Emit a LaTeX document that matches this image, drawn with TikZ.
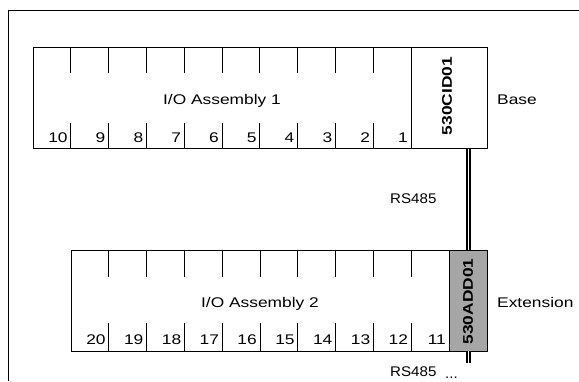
\documentclass[tikz,border=0pt]{standalone}
\usepackage{fontspec}
\setmainfont{Liberation Sans}
\usepackage{graphicx}
\newcommand\hs[1]{\scalebox{1.24}[1]{#1}}
\newcommand\hsr[1]{\scalebox{1.08}[1]{#1}}
\definecolor{modgray}{HTML}{A6A6A6}
\begin{document}
\begin{tikzpicture}[x=1pt,y=-1pt,
  ln/.style={draw=black, line width=0.9pt},
  io/.style={ln, rectangle, minimum width=378pt, minimum height=101pt, inner sep=0pt, anchor=north west},
  cidbox/.style={ln, rectangle, minimum width=76pt, minimum height=101pt, inner sep=0pt, anchor=north west},
  addbox/.style={ln, fill=modgray, rectangle, minimum width=38pt, minimum height=101pt, inner sep=0pt, anchor=north west},
  txt/.style={font=\fontsize{14}{16}\selectfont, inner sep=0pt},
  cable/.style={draw=black, line width=2pt, double=white, double distance=1pt},
]
\useasboundingbox (0,0) rectangle (579,381);
\draw[ln] (579,10) -- (8,10) -- (8,381);

% Base assembly
\node[io] (io1) at (33,47) {};
\node[cidbox] (cid) at (411,47) {};
\node[txt, rotate=90] (cidlab) at (447,96) {\hs{\bfseries 530CID01}};
\foreach \i in {1,...,9} {
  \draw[ln] ({33+37.8*\i},47) -- ++(0,26);
  \draw[ln] ({33+37.8*\i},148) -- ++(0,-25);
}
\foreach \i in {0,...,9} {
  \pgfmathtruncatemacro\n{10-\i}
  \node[txt, anchor=base east] (n1-\i) at ({33+37.8*(\i+1)-3},142) {\hs{\n}};
}
\node[txt, anchor=base] (lab1) at (222,104) {\hs{I/O Assembly 1}};
\node[txt, anchor=base west] (base) at (497,104) {\hs{Base}};

% Extension assembly
\node[io] (io2) at (71,249.5) {};
\node[addbox] (add) at (449,249.5) {};
\node[txt, rotate=90] (addlab) at (468,301.5) {\hs{\bfseries 530ADD01}};
\foreach \i in {1,...,9} {
  \draw[ln] ({71+37.8*\i},249.5) -- ++(0,27);
  \draw[ln] ({71+37.8*\i},350.5) -- ++(0,-28);
}
\foreach \i in {0,...,9} {
  \pgfmathtruncatemacro\n{20-\i}
  \node[txt, anchor=base east] (n2-\i) at ({71+37.8*(\i+1)-3},344) {\hs{\n}};
}
\node[txt, anchor=base] (lab2) at (260,307) {\hs{I/O Assembly 2}};
\node[txt, anchor=base west] (ext) at (497,307) {\hs{Extension}};

% RS485 cable
\draw[cable] (add.north |- cid.south) -- (add.north);
\coordinate (cend) at ([yshift=-12pt]add.south);
\draw[cable] (add.south) -- (cend);
\node[txt, anchor=base west] (rs1) at (390,203) {\hsr{RS485}};
\node[txt, anchor=base west] (rs2) at (390,376.5) {\hsr{RS485}};
\node[txt, anchor=base west] (dots) at (445,378.5) {\hsr{...}};
\end{tikzpicture}
\end{document}
